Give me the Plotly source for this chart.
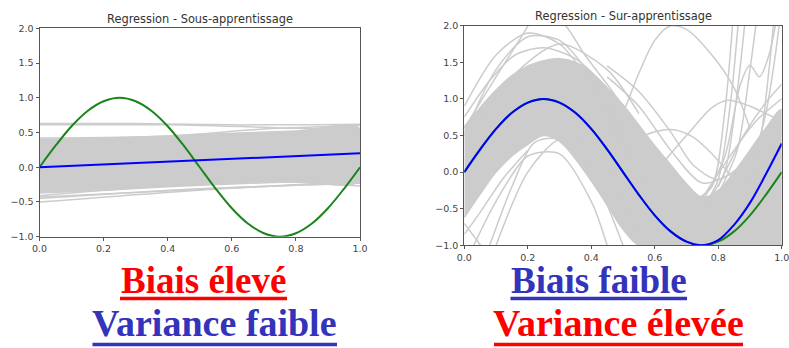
import plotly.graph_objects as go

W, H = 789, 348

# ---------------- data ----------------
x_true = [0.0, 0.05, 0.1, 0.15, 0.2, 0.25, 0.3, 0.35, 0.4, 0.45, 0.5,
          0.55, 0.6, 0.65, 0.7, 0.75, 0.8, 0.85, 0.9, 0.95, 1.0]
y_true = [0.0, 0.31, 0.59, 0.81, 0.95, 1.0, 0.95, 0.81, 0.59, 0.31, 0.0,
          -0.31, -0.59, -0.81, -0.95, -1.0, -0.95, -0.81, -0.59, -0.31, 0.0]

# under-fitting: mean fit (blue) and spread of fits (grey)
under_mean_x = [0.0, 1.0]
under_mean_y = [0.0, 0.2]
under_band_x = [0.0, 0.2, 0.4, 0.6, 0.8, 1.0]
under_band_upper = [0.40, 0.42, 0.45, 0.49, 0.52, 0.55]
under_band_lower = [-0.37, -0.33, -0.28, -0.24, -0.21, -0.19]
under_out_x = [[0, 0.3, 0.6, 1.0], [0, 0.4, 0.8, 1.0], [0, 0.4, 0.7, 1.0],
               [0, 0.5, 1.0], [0, 0.5, 1.0], [0, 0.3, 0.7, 1.0], [0, 0.5, 1.0]]
under_out_y = [[0.63, 0.63, 0.61, 0.62], [0.61, 0.61, 0.56, 0.53], [0.42, 0.45, 0.55, 0.60],
               [-0.50, -0.33, -0.20], [-0.45, -0.31, -0.23], [-0.41, -0.30, -0.20, -0.27],
               [-0.43, -0.32, -0.22]]

# over-fitting: mean fit (blue) and spread of fits (grey)
over_mean_x = x_true
over_mean_y = [0.0, 0.31, 0.59, 0.81, 0.95, 1.0, 0.95, 0.81, 0.59, 0.31, 0.0,
               -0.31, -0.59, -0.81, -0.95, -1.0, -0.93, -0.72, -0.42, -0.03, 0.39]
over_band_x = [0.0, 0.05, 0.1, 0.15, 0.2, 0.25, 0.3, 0.35, 0.4, 0.45, 0.5,
               0.55, 0.6, 0.65, 0.7, 0.75, 0.8, 0.85, 0.9, 0.95, 1.0]
over_band_upper = [0.62, 0.88, 1.12, 1.32, 1.45, 1.52, 1.55, 1.5, 1.36, 1.15, 0.92,
                   0.64, 0.36, 0.1, -0.16, -0.35, -0.25, 0.0, 0.3, 0.6, 0.85]
over_band_lower = [-0.62, -0.3, 0.0, 0.22, 0.38, 0.5, 0.42, 0.18, -0.12, -0.45, -0.78,
                   -1.0, -1.0, -1.0, -1.0, -1.0, -1.0, -1.0, -1.0, -1.0, -1.0]
over_out_x = [
    [0, 0.1, 0.2, 0.3, 0.4, 0.5, 0.6],
    [0, 0.1, 0.2, 0.3, 0.4, 0.5],
    [0.0, 0.1, 0.18, 0.24, 0.28],
    [0.05, 0.15, 0.3, 0.45, 0.55],
    [0.03, 0.1, 0.2, 0.3, 0.4, 0.45],
    [0.08, 0.15, 0.22, 0.3, 0.4, 0.5],
    [0.0, 0.06],
    [0.1, 0.2, 0.3, 0.4, 0.5, 0.55],
    [0.45, 0.5, 0.55, 0.6, 0.65, 0.7, 0.78, 0.85, 0.9],
    [0.55, 0.65, 0.72, 0.78, 0.83, 0.9, 0.95, 1.0],
    [0.48, 0.55, 0.6, 0.66, 0.72, 0.78, 0.85],
    [0.75, 0.82, 0.87, 0.9, 0.93, 0.96, 1.0],
    [0.72, 0.78, 0.82, 0.85],
    [0.75, 0.8, 0.84, 0.87],
    [0.76, 0.82, 0.86, 0.89],
    [0.8, 0.86, 0.9, 0.93],
    [0.88, 0.93, 0.96, 0.98],
    [0.9, 0.95, 0.98, 1.0],
    [0.8, 0.88, 0.95, 1.0],
    [0.75, 0.85, 0.92, 1.0],
    [0.45, 0.55, 0.65, 0.75, 0.85],
    [0.45, 0.55, 0.65, 0.72, 0.8, 0.9],
    [0.25, 0.32, 0.38, 0.45, 0.5],
    [0.0, 0.08, 0.16, 0.25, 0.35, 0.45],
    [0.6, 0.7, 0.8, 0.9, 1.0],
    [0.0, 0.05, 0.12, 0.2],
]
over_out_y = [
    [0.9, 1.6, 1.9, 1.75, 1.2, 0.4, -0.4],
    [0.5, 1.4, 1.85, 1.8, 1.3, 0.5],
    [0.6, 1.3, 1.85, 2.3, 2.8],
    [0.6, 1.3, 1.75, 1.4, 0.8],
    [-1.0, -0.4, 0.22, 0.25, -0.4, -1.0],
    [-1.0, -0.2, 0.4, 0.45, 0.0, -1.0],
    [-0.7, -1.05],
    [-1.0, 0.0, 0.45, 0.4, -0.3, -1.0],
    [0.3, 0.8, 1.35, 1.8, 2.0, 1.95, 1.6, 1.15, 0.6],
    [-0.3, 0.25, 0.6, 0.88, 0.98, 0.9, 0.8, 0.7],
    [0.1, 0.45, 0.55, 0.58, 0.48, 0.25, -0.1],
    [-0.4, 0.2, 1.2, 1.46, 1.3, 1.6, 2.5],
    [-0.4, -0.2, 0.8, 2.3],
    [-0.5, -0.1, 1.0, 2.4],
    [-0.45, 0.0, 1.1, 2.3],
    [-0.3, 0.3, 1.4, 2.4],
    [-0.2, 0.4, 1.4, 2.3],
    [0.0, 0.8, 1.6, 2.3],
    [-0.2, 0.5, 0.95, 1.2],
    [-0.35, 0.3, 0.7, 1.0],
    [1.3, 0.9, 0.3, -0.15, 0.0],
    [1.45, 1.1, 0.55, 0.1, -0.1, 0.2],
    [2.3, 2.0, 1.6, 1.2, 0.9],
    [0.75, 1.25, 1.6, 1.7, 1.55, 1.15],
    [-0.2, -0.3, -0.35, -0.1, 0.55],
    [-0.85, -0.55, -0.1, 0.3],
]

x_ticks = [0.0, 0.2, 0.4, 0.6, 0.8, 1.0]
x_ticklabels = ["0.0", "0.2", "0.4", "0.6", "0.8", "1.0"]
y_ticks = [-1.0, -0.5, 0.0, 0.5, 1.0, 1.5, 2.0]
y_ticklabels = ["\u22121.0", "\u22120.5", "0.0", "0.5", "1.0", "1.5", "2.0"]

titles = ["Regression - Sous-apprentissage", "Regression - Sur-apprentissage"]
labels = [("Biais élevé", "#ff0000"), ("Variance faible", "#3333bb"),
          ("Biais faible", "#3333bb"), ("Variance élevée", "#ff0000")]

GREY = "rgb(204,204,204)"
GREEN = "#1a861a"
BLUE = "#0000ff"

fig = go.Figure()


def add_panel(xa, ya, band_x, up, lo, out_x, out_y, mean_x, mean_y):
    fig.add_trace(go.Scatter(x=band_x + band_x[::-1], y=up + lo[::-1], fill="toself",
                             fillcolor=GREY, line=dict(color=GREY, width=1.5, shape="spline"),
                             mode="lines", xaxis=xa, yaxis=ya, hoverinfo="skip"))
    for ox, oy in zip(out_x, out_y):
        fig.add_trace(go.Scatter(x=ox, y=oy, mode="lines",
                                 line=dict(color=GREY, width=1.5, shape="spline", smoothing=0.8),
                                 xaxis=xa, yaxis=ya, hoverinfo="skip"))
    fig.add_trace(go.Scatter(x=x_true, y=y_true, mode="lines",
                             line=dict(color=GREEN, width=2, shape="spline"),
                             xaxis=xa, yaxis=ya, hoverinfo="skip"))
    fig.add_trace(go.Scatter(x=mean_x, y=mean_y, mode="lines",
                             line=dict(color=BLUE, width=2, shape="spline"),
                             xaxis=xa, yaxis=ya, hoverinfo="skip"))


add_panel("x", "y", under_band_x, under_band_upper, under_band_lower,
          under_out_x, under_out_y, under_mean_x, under_mean_y)
add_panel("x2", "y2", over_band_x, over_band_upper, over_band_lower,
          over_out_x, over_out_y, over_mean_x, over_mean_y)


def px_x(p):
    return p / W


def px_y(p):
    return 1 - p / H


axis_common = dict(showgrid=False, zeroline=False, showline=True, mirror=True,
                   automargin=False, ticklabeloverflow="allow",
                   linecolor="#555", linewidth=1, ticks="outside", ticklen=3,
                   tickcolor="#555", tickfont=dict(family="DejaVu Sans", size=9.5, color="#444"))

fig.update_layout(
    width=W, height=H, autosize=False,
    margin=dict(l=0, r=0, t=0, b=0, pad=0, autoexpand=False),
    paper_bgcolor="white", plot_bgcolor="white", showlegend=False,
    xaxis=dict(domain=[px_x(39.5), px_x(360)], range=[0, 1], tickvals=x_ticks,
               ticktext=x_ticklabels, anchor="y", **axis_common),
    yaxis=dict(domain=[px_y(236.7), px_y(28.3)], range=[-1, 2], tickvals=y_ticks,
               ticktext=y_ticklabels, anchor="x", **axis_common),
    xaxis2=dict(domain=[px_x(464.3), px_x(781.7)], range=[0, 1], tickvals=x_ticks,
                ticktext=x_ticklabels, anchor="y2", **axis_common),
    yaxis2=dict(domain=[px_y(245.3), px_y(25.7)], range=[-1, 2], tickvals=y_ticks,
                ticktext=y_ticklabels, anchor="x2", **axis_common),
)

ann = [
    dict(text=titles[0], x=px_x(200), y=px_y(19), xref="paper", yref="paper",
         showarrow=False, font=dict(family="DejaVu Sans", size=11.4, color="#333"),
         xanchor="center", yanchor="middle"),
    dict(text=titles[1], x=px_x(623), y=px_y(16), xref="paper", yref="paper",
         showarrow=False, font=dict(family="DejaVu Sans", size=11.4, color="#333"),
         xanchor="center", yanchor="middle"),
]
label_pos = [(203.5, 280), (214.7, 323), (598.8, 280.5), (618.5, 323)]
label_size = [37, 38, 37, 38]
for (txt, col), (cx, cy), fs in zip(labels, label_pos, label_size):
    ann.append(dict(text="<b>" + txt + "</b>", x=px_x(cx), y=px_y(cy), xref="paper",
                    yref="paper", showarrow=False, xanchor="center", yanchor="middle",
                    font=dict(family="Liberation Serif", size=fs, color=col)))
fig.update_layout(annotations=ann)

underlines = [(120, 287, 298.5, "#ff0000"), (92.5, 337, 344.5, "#3333bb"),
              (510.5, 687, 298.5, "#3333bb"), (494, 743, 344.5, "#ff0000")]
for x0, x1, yy, col in underlines:
    fig.add_shape(type="line", xref="paper", yref="paper", x0=px_x(x0), x1=px_x(x1),
                  y0=px_y(yy), y1=px_y(yy), line=dict(color=col, width=3.5))

fig.write_html("out.html", config={"displayModeBar": False, "staticPlot": True},
               post_script="document.body.style.margin='0';document.body.style.overflow='hidden';")
